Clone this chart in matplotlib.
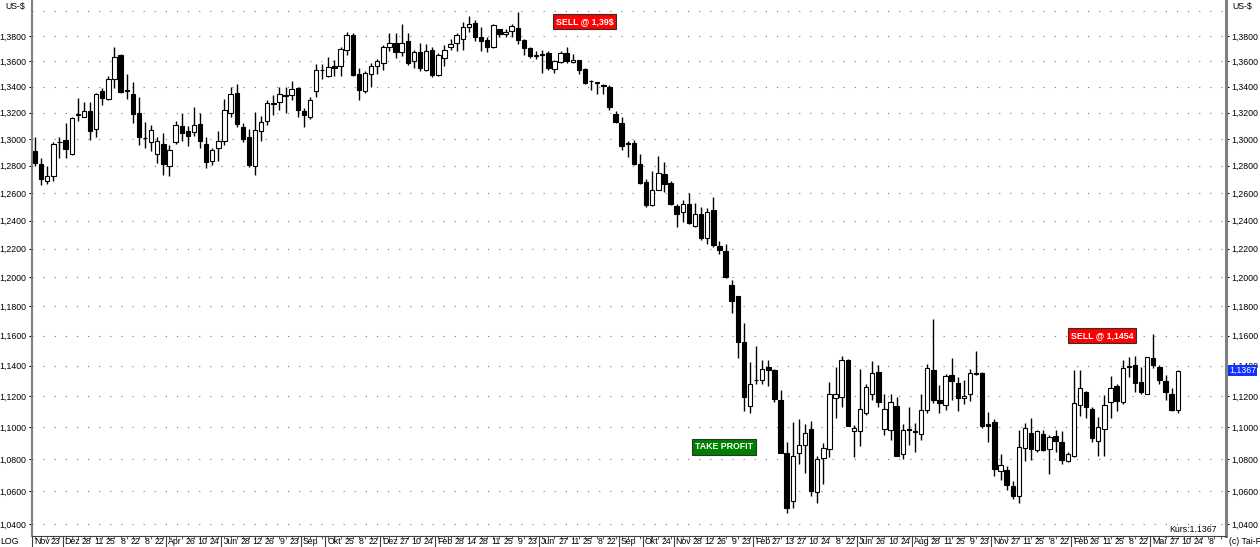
import matplotlib.pyplot as plt
import numpy as np
import pandas as pd
from matplotlib.ticker import FixedLocator, NullLocator, FuncFormatter

plt.rcParams['font.family'] = ['Liberation Sans', 'DejaVu Sans']

# Wochenkerzen EUR/USD (Freitag), ab 02.11.2012
start = '2012-11-02'
opens = [
    1.2910, 1.2810, 1.2690, 1.2724, 1.2975, 1.2992, 1.2884, 1.3183, 1.3168, 1.3214,
    1.3077, 1.3367, 1.3305, 1.3457, 1.3646, 1.3371, 1.3341, 1.3194, 1.3010, 1.2974,
    1.2889, 1.2966, 1.2801, 1.2974, 1.3101, 1.3063, 1.3050, 1.3114, 1.2966, 1.2838,
    1.2930, 1.2982, 1.3199, 1.3349, 1.3093, 1.3013, 1.2800, 1.3059, 1.3134, 1.3270,
    1.3281, 1.3329, 1.3336, 1.3388, 1.3212, 1.3168, 1.3370, 1.3527, 1.3483, 1.3565,
    1.3565, 1.3690, 1.3808, 1.3496, 1.3367, 1.3496, 1.3560, 1.3586, 1.3711, 1.3742,
    1.3670, 1.3760, 1.3600, 1.3670, 1.3529, 1.3685, 1.3491, 1.3625, 1.3711, 1.3742,
    1.3780, 1.3873, 1.3904, 1.3795, 1.3765, 1.3713, 1.3860, 1.3814, 1.3842, 1.3868,
    1.3770, 1.3705, 1.3648, 1.3653, 1.3663, 1.3537, 1.3596, 1.3663, 1.3596, 1.3612,
    1.3537, 1.3446, 1.3434, 1.3413, 1.3400, 1.3189, 1.3125, 1.2967, 1.2970, 1.2810,
    1.2680, 1.2510, 1.2624, 1.2740, 1.2672, 1.2502, 1.2461, 1.2517, 1.2364, 1.2444,
    1.2278, 1.2473, 1.2217, 1.2183, 1.1947, 1.1870, 1.1555, 1.1137, 1.1307, 1.1305,
    1.1393, 1.1371, 1.1175, 1.0840, 1.0540, 1.0837, 1.0886, 1.0990, 1.0594, 1.0806,
    1.0865, 1.1191, 1.1196, 1.1438, 1.0977, 1.0979, 1.1094, 1.1213, 1.1360, 1.0988,
    1.0984, 1.1136, 1.0832, 1.0986, 1.0979, 1.0958, 1.1111, 1.1373, 1.1175, 1.1143,
    1.1336, 1.1287, 1.1191, 1.1213, 1.1352, 1.1352, 1.1020, 1.1032, 1.0726, 1.0730,
    1.0630, 1.0570, 1.0868, 1.0966, 1.0858, 1.0958, 1.0864, 1.0945, 1.0908, 1.0789,
    1.0821, 1.1143, 1.1230, 1.1119, 1.0915, 1.0986, 1.1160, 1.1265, 1.1163, 1.1395,
    1.1404, 1.1294, 1.1217, 1.1448, 1.1393, 1.1300, 1.1217, 1.1108]
highs = [
    1.3013, 1.2858, 1.2795, 1.2975, 1.3013, 1.3124, 1.3170, 1.3310, 1.3285, 1.3285,
    1.3350, 1.3388, 1.3483, 1.3712, 1.3659, 1.3503, 1.3437, 1.3324, 1.3129, 1.3105,
    1.3018, 1.3044, 1.2956, 1.3134, 1.3200, 1.3101, 1.3246, 1.3194, 1.3018, 1.2936,
    1.3057, 1.3302, 1.3400, 1.3418, 1.3119, 1.3077, 1.3207, 1.3173, 1.3299, 1.3336,
    1.3400, 1.3400, 1.3448, 1.3400, 1.3233, 1.3323, 1.3575, 1.3575, 1.3633, 1.3612,
    1.3711, 1.3834, 1.3826, 1.3547, 1.3522, 1.3586, 1.3617, 1.3730, 1.3821, 1.3821,
    1.3894, 1.3821, 1.3690, 1.3742, 1.3735, 1.3716, 1.3663, 1.3730, 1.3780, 1.3826,
    1.3912, 1.3962, 1.3925, 1.3873, 1.3790, 1.3899, 1.3860, 1.3860, 1.3894, 1.3993,
    1.3775, 1.3712, 1.3680, 1.3690, 1.3677, 1.3612, 1.3677, 1.3712, 1.3655, 1.3612,
    1.3547, 1.3452, 1.3436, 1.3418, 1.3411, 1.3215, 1.3165, 1.2985, 1.2995, 1.2890,
    1.2705, 1.2765, 1.2870, 1.2825, 1.2687, 1.2517, 1.2546, 1.2600, 1.2529, 1.2497,
    1.2490, 1.2570, 1.2255, 1.2232, 1.1982, 1.1870, 1.1685, 1.1423, 1.1532, 1.1440,
    1.1440, 1.1378, 1.1240, 1.0905, 1.1035, 1.1050, 1.1022, 1.1037, 1.0821, 1.0900,
    1.1292, 1.1394, 1.1464, 1.1442, 1.1015, 1.1376, 1.1281, 1.1430, 1.1402, 1.1217,
    1.1211, 1.1196, 1.1022, 1.1128, 1.1026, 1.1211, 1.1410, 1.1714, 1.1272, 1.1347,
    1.1452, 1.1326, 1.1307, 1.1378, 1.1495, 1.1357, 1.1096, 1.1052, 1.0828, 1.0758,
    1.0660, 1.0983, 1.1030, 1.1058, 1.0984, 1.0984, 1.0952, 1.0984, 1.0973, 1.0842,
    1.1368, 1.1368, 1.1234, 1.1130, 1.1065, 1.1208, 1.1330, 1.1276, 1.1437, 1.1459,
    1.1463, 1.1393, 1.1459, 1.1611, 1.1404, 1.1337, 1.1250, 1.1371]
lows = [
    1.2800, 1.2660, 1.2665, 1.2690, 1.2858, 1.2858, 1.2880, 1.3137, 1.3165, 1.2992,
    1.3013, 1.3262, 1.3297, 1.3393, 1.3349, 1.3302, 1.3118, 1.2956, 1.2936, 1.2910,
    1.2819, 1.2734, 1.2724, 1.2961, 1.2987, 1.2948, 1.3024, 1.2936, 1.2782, 1.2807,
    1.2833, 1.2956, 1.3168, 1.3093, 1.2974, 1.2789, 1.2734, 1.2987, 1.3109, 1.3181,
    1.3220, 1.3200, 1.3297, 1.3168, 1.3093, 1.3155, 1.3323, 1.3457, 1.3478, 1.3483,
    1.3483, 1.3646, 1.3486, 1.3297, 1.3349, 1.3400, 1.3496, 1.3529, 1.3677, 1.3625,
    1.3638, 1.3573, 1.3547, 1.3522, 1.3522, 1.3478, 1.3486, 1.3560, 1.3690, 1.3677,
    1.3690, 1.3834, 1.3757, 1.3677, 1.3670, 1.3705, 1.3795, 1.3790, 1.3795, 1.3737,
    1.3646, 1.3625, 1.3620, 1.3504, 1.3527, 1.3511, 1.3586, 1.3586, 1.3586, 1.3496,
    1.3418, 1.3372, 1.3341, 1.3341, 1.3220, 1.3122, 1.2915, 1.2865, 1.2805, 1.2662,
    1.2498, 1.2505, 1.2620, 1.2610, 1.2510, 1.2352, 1.2388, 1.2376, 1.2357, 1.2264,
    1.2236, 1.2212, 1.2160, 1.1995, 1.1750, 1.1453, 1.1107, 1.1090, 1.1278, 1.1278,
    1.1265, 1.1165, 1.0840, 1.0465, 1.0500, 1.0770, 1.0710, 1.0570, 1.0526, 1.0645,
    1.0811, 1.1058, 1.1128, 1.1005, 1.0811, 1.0880, 1.1079, 1.1175, 1.1132, 1.0952,
    1.0920, 1.0821, 1.0800, 1.0888, 1.0843, 1.0920, 1.1090, 1.1154, 1.1090, 1.1111,
    1.1175, 1.1107, 1.1147, 1.1170, 1.1336, 1.0994, 1.0905, 1.0693, 1.0667, 1.0610,
    1.0550, 1.0525, 1.0790, 1.0794, 1.0843, 1.0850, 1.0705, 1.0843, 1.0768, 1.0780,
    1.0810, 1.1073, 1.1058, 1.0909, 1.0821, 1.0821, 1.1058, 1.1107, 1.1152, 1.1327,
    1.1230, 1.1213, 1.1213, 1.1382, 1.1278, 1.1177, 1.1104, 1.1090]
closes = [
    1.2820, 1.2700, 1.2725, 1.2966, 1.2980, 1.2923, 1.3163, 1.3188, 1.3214, 1.3059,
    1.3341, 1.3315, 1.3457, 1.3633, 1.3362, 1.3367, 1.3189, 1.3013, 1.3006, 1.3070,
    1.2987, 1.2811, 1.2915, 1.3109, 1.3042, 1.3024, 1.3109, 1.2987, 1.2825, 1.2918,
    1.2987, 1.3220, 1.3341, 1.3114, 1.3000, 1.2807, 1.3065, 1.3127, 1.3273, 1.3275,
    1.3341, 1.3333, 1.3380, 1.3220, 1.3181, 1.3297, 1.3529, 1.3531, 1.3555, 1.3547,
    1.3700, 1.3808, 1.3491, 1.3372, 1.3504, 1.3560, 1.3600, 1.3709, 1.3742, 1.3670,
    1.3742, 1.3586, 1.3670, 1.3547, 1.3677, 1.3491, 1.3651, 1.3690, 1.3735, 1.3808,
    1.3873, 1.3900, 1.3795, 1.3757, 1.3713, 1.3886, 1.3818, 1.3834, 1.3878, 1.3770,
    1.3705, 1.3638, 1.3644, 1.3649, 1.3547, 1.3600, 1.3663, 1.3600, 1.3612, 1.3529,
    1.3432, 1.3442, 1.3430, 1.3409, 1.3241, 1.3130, 1.2950, 1.2963, 1.2810, 1.2672,
    1.2510, 1.2624, 1.2745, 1.2667, 1.2522, 1.2449, 1.2522, 1.2381, 1.2449, 1.2278,
    1.2461, 1.2224, 1.2193, 1.2000, 1.1838, 1.1555, 1.1193, 1.1281, 1.1303, 1.1378,
    1.1371, 1.1180, 1.0840, 1.0498, 1.0820, 1.0886, 1.0966, 1.0600, 1.0800, 1.0869,
    1.1217, 1.1212, 1.1438, 1.1011, 1.0994, 1.1115, 1.1260, 1.1350, 1.1164, 1.1115,
    1.1164, 1.0821, 1.0984, 1.0982, 1.0967, 1.1111, 1.1384, 1.1175, 1.1158, 1.1330,
    1.1300, 1.1191, 1.1202, 1.1352, 1.1348, 1.1011, 1.1005, 1.0737, 1.0763, 1.0640,
    1.0570, 1.0877, 1.0994, 1.0864, 1.0973, 1.0855, 1.0937, 1.0915, 1.0794, 1.0831,
    1.1153, 1.1250, 1.1128, 1.0930, 1.1000, 1.1143, 1.1254, 1.1170, 1.1387, 1.1391,
    1.1288, 1.1228, 1.1455, 1.1404, 1.1305, 1.1228, 1.1108, 1.1367]

price_ticks = [1.04, 1.06, 1.08, 1.10, 1.12, 1.14, 1.16, 1.18, 1.20, 1.22,
               1.24, 1.26, 1.28, 1.30, 1.32, 1.34, 1.36, 1.38]
grid_levels = price_ticks + [1.40]

month_dates = ['2012-11-02', '2012-12-07', '2013-04-05', '2013-06-07', '2013-09-06',
               '2013-10-04', '2013-12-06', '2014-02-07', '2014-06-06', '2014-09-05',
               '2014-10-03', '2014-11-07', '2015-02-06', '2015-06-05', '2015-08-07',
               '2015-11-06', '2016-02-05', '2016-05-06']
month_names = ['Nov', 'Dez', 'Apr', 'Jun', 'Sep', 'Okt', 'Dez', 'Feb', 'Jun', 'Sep',
               'Okt', 'Nov', 'Feb', 'Jun', 'Aug', 'Nov', 'Feb', 'Mai']
day_dates = ['2012-11-23', '2012-12-28', '2013-01-11', '2013-01-25', '2013-02-08',
             '2013-02-22', '2013-03-08', '2013-03-22', '2013-04-26', '2013-05-10',
             '2013-05-24', '2013-06-28', '2013-07-12', '2013-07-26', '2013-08-09',
             '2013-08-23', '2013-10-25', '2013-11-08', '2013-11-22', '2013-12-27',
             '2014-01-10', '2014-01-24', '2014-02-28', '2014-03-14', '2014-03-28',
             '2014-04-11', '2014-04-25', '2014-05-09', '2014-05-23', '2014-06-27',
             '2014-07-11', '2014-07-25', '2014-08-08', '2014-08-22', '2014-10-24',
             '2014-11-28', '2014-12-12', '2014-12-26', '2015-01-09', '2015-01-23',
             '2015-02-27', '2015-03-13', '2015-03-27', '2015-04-10', '2015-04-24',
             '2015-05-08', '2015-05-22', '2015-06-26', '2015-07-10', '2015-07-24',
             '2015-08-28', '2015-09-11', '2015-09-25', '2015-10-09', '2015-10-23',
             '2015-11-27', '2015-12-11', '2015-12-25', '2016-01-08', '2016-01-22',
             '2016-02-26', '2016-03-11', '2016-03-25', '2016-04-08', '2016-04-22',
             '2016-05-27', '2016-06-10', '2016-06-24', '2016-07-08']

o = np.array(opens)
h = np.array(highs)
l = np.array(lows)
c = np.array(closes)
x = np.arange(len(c))
t0 = pd.Timestamp(start)


def week_index(d):
    return (pd.Timestamp(d) - t0).days / 7


fig = plt.figure(figsize=(12.6, 5.47), dpi=100)
ax = fig.add_axes([32 / 1260, 11 / 547, 1194 / 1260, 536 / 547])
ax.set_yscale('log')

# Gitter aus Punkten
for lev in grid_levels:
    ax.axhline(lev, color='#7a7a7a', lw=0.8, ls=(0, (1, 9)), zorder=0)

# Kerzen
ax.vlines(x, l, h, color='black', lw=1, zorder=2)
body_lo = np.minimum(o, c)
body_h = np.maximum(np.abs(c - o), 0.0002)
cols = np.where(c >= o, 'white', 'black')
ax.bar(x, body_h, width=0.72, bottom=body_lo, color=cols, edgecolor='black',
       linewidth=0.8, zorder=3)

ax.set_xlim(-0.5, 194.9)
ax.set_ylim(1.0328, 1.4091)

ax.yaxis.set_major_locator(FixedLocator(price_ticks))
ax.yaxis.set_minor_locator(NullLocator())
ax.yaxis.set_major_formatter(FuncFormatter(lambda v, p: f'{v:.4f}'.replace('.', ',')))
ax.tick_params(axis='y', which='major', left=True, right=True, labelleft=True,
               labelright=True, length=2.5, width=0.8, pad=1.5, labelsize=6.3)

ax.set_xticks(np.arange(0, 195))
ax.xaxis.set_minor_locator(NullLocator())
ax.tick_params(axis='x', length=2, width=0.6, colors='#404040', labelbottom=False)

ax.spines['top'].set_visible(False)
ax.spines['left'].set_color('#808080')
ax.spines['left'].set_linewidth(1.5)
ax.spines['right'].set_color('#808080')
ax.spines['right'].set_linewidth(2.2)
ax.spines['bottom'].set_color('#404040')
ax.spines['bottom'].set_linewidth(0.8)

# Datumsleiste
trans = ax.get_xaxis_transform()
for d, name in zip(month_dates, month_names):
    i = week_index(d)
    ax.vlines(i - 0.5, -11 / 536, 0, transform=trans, clip_on=False,
              color='#404040', lw=0.8)
    ax.annotate(name, xy=(i - 0.5, 0), xycoords=trans, xytext=(2, -6),
                textcoords='offset pixels', ha='left', va='center', fontsize=6.3)
for d in day_dates:
    i = week_index(d)
    ax.annotate(str(pd.Timestamp(d).day), xy=(i + 0.4, 0), xycoords=trans,
                xytext=(0, -6), textcoords='offset pixels', ha='center',
                va='center', fontsize=6.3)

# Signale
ax.text(89.9, 1.392, 'SELL @ 1,39$', color='white', fontsize=6.3, fontweight='bold',
        ha='center', va='center', zorder=5,
        bbox=dict(boxstyle='square,pad=0.35', fc='#ff0000', ec='#303030', lw=0.8))
ax.text(174.6, 1.160, 'SELL @ 1,1454', color='white', fontsize=6.3, fontweight='bold',
        ha='center', va='center', zorder=5,
        bbox=dict(boxstyle='square,pad=0.35', fc='#ff0000', ec='#303030', lw=0.8))
ax.text(112.7, 1.0875, 'TAKE PROFIT', color='white', fontsize=6.3, fontweight='bold',
        ha='center', va='center', zorder=5,
        bbox=dict(boxstyle='square,pad=0.35', fc='#008000', ec='#303030', lw=0.8))

# aktueller Kurs
last = closes[-1]
ax.annotate(f'{last:.4f}'.replace('.', ','), xy=(1, last), xycoords=('axes fraction', 'data'),
            xytext=(3, 0), textcoords='offset pixels', ha='left', va='center',
            fontsize=6.3, color='white', annotation_clip=False, zorder=6,
            bbox=dict(boxstyle='square,pad=0.15', fc='#1432ff', ec='none'))
ax.text(0.9925, 0.004, f'Kurs:{last:.4f}', transform=ax.transAxes, ha='right',
        va='bottom', fontsize=6.3)

fig.text(5 / 1260, 1 - 6 / 547, 'US-$', ha='left', va='center', fontsize=6.3)
fig.text(1232 / 1260, 1 - 6 / 547, 'US-$', ha='left', va='center', fontsize=6.3)
fig.text(0, 6 / 547, 'LOG', ha='left', va='center', fontsize=6.3)
fig.text(1229 / 1260, 6 / 547, '(c) Tai-Pan', ha='left', va='center', fontsize=6.3)

fig.savefig('out.png', dpi=100)
